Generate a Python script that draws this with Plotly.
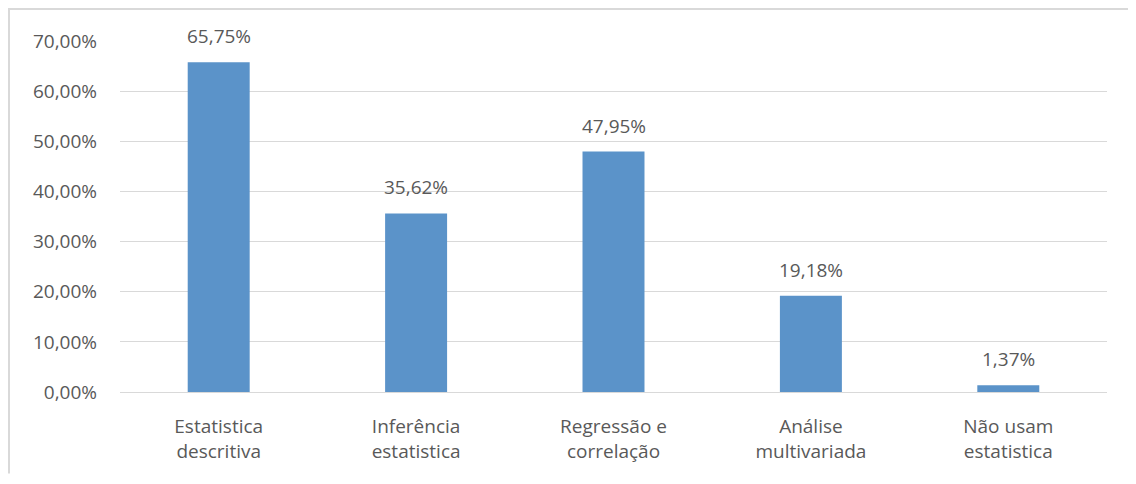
import plotly.graph_objects as go

categorias = ["Estatistica<br>descritiva", "Inferência<br>estatistica", "Regressão e<br>correlação",
              "Análise<br>multivariada", "Não usam<br>estatistica"]
percentuais = [0.6575, 0.3562, 0.4795, 0.1918, 0.0137]
ticks_y = [0, 0.1, 0.2, 0.3, 0.4, 0.5, 0.6, 0.7]

# a página tem margem de 8px no body, então a figura fica menor para não gerar barras de rolagem
W, H = 1120, 468
ml, mr, mt, mb = 112, 21, 33, 82
pw, ph = W - ml - mr, H - mt - mb
cinza = "#595959"

fig = go.Figure()
fig.add_bar(x=categorias, y=percentuais, marker_color="#5b93c9", marker_line_width=0,
            hoverinfo="x+y")

# rótulos de dados acima das barras
for c, v in zip(categorias, percentuais):
    fig.add_annotation(x=c, y=v, text=f"{v*100:.2f}%".replace(".", ","), showarrow=False,
                       yanchor="middle", yshift=26, font=dict(size=19, color=cinza))

# borda do gráfico (topo e esquerda)
fig.add_shape(type="line", xref="paper", yref="paper", x0=-ml / pw, x1=1 + mr / pw, y0=1 + mt / ph - 0.002,
              y1=1 + mt / ph - 0.002, line=dict(color="#d9d9d9", width=2))
fig.add_shape(type="line", xref="paper", yref="paper", x0=-ml / pw + 0.001, x1=-ml / pw + 0.001,
              y0=-mb / ph, y1=1 + mt / ph, line=dict(color="#d9d9d9", width=2))

fig.update_layout(
    width=W, height=H, margin=dict(l=ml, r=mr, t=mt, b=mb),
    plot_bgcolor="white", paper_bgcolor="white",
    separators=",.", bargap=0.686, showlegend=False,
    font=dict(family="Open Sans, sans-serif", size=19, color=cinza),
)
fig.update_yaxes(range=[0, 0.7], tickvals=ticks_y, tickformat=".2%", showgrid=True,
                 gridcolor="#d9d9d9", gridwidth=1, zeroline=False, showline=False,
                 ticks="", ticklabelstandoff=22, tickfont=dict(size=19))
fig.update_xaxes(showline=True, linecolor="#d9d9d9", ticks="", ticklabelstandoff=17,
                 tickfont=dict(size=19))

fig.write_html("out.html")
